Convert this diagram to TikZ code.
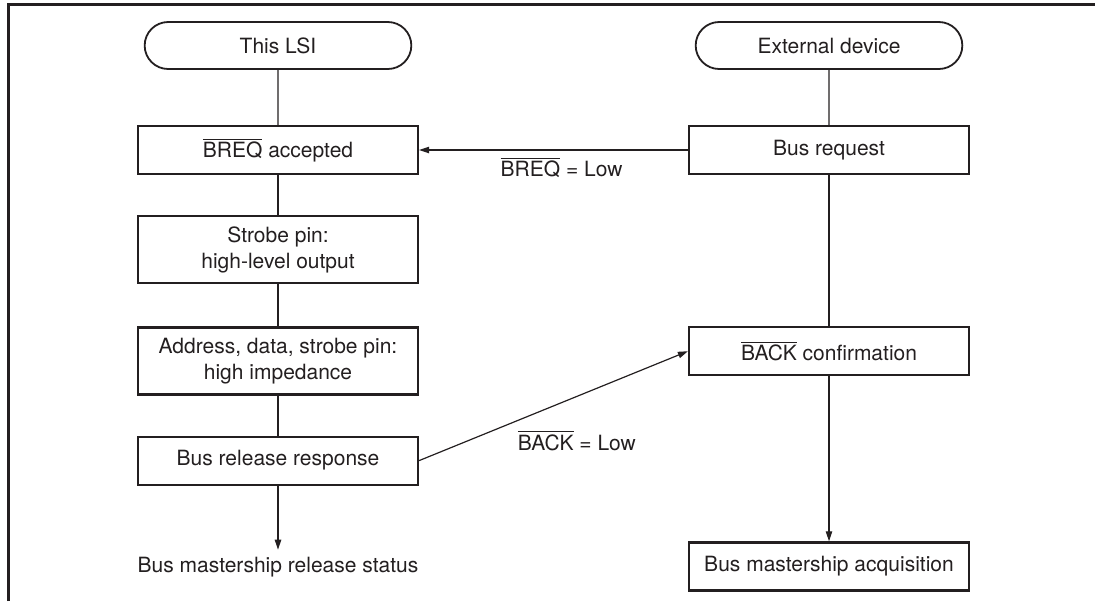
\documentclass[tikz,border=0pt]{standalone}
\usepackage{fontspec}
\setmainfont{TeX Gyre Heros}
\usetikzlibrary{arrows.meta, positioning, shapes.misc}
\definecolor{inkDark}{HTML}{231F20}
\tikzset{
  arrowK/.style={-{Triangle[length=5pt, width=3.2pt]}, inkDark, line width=0.6pt},
  lineK/.style={inkDark, line width=0.6pt},
  boxStep/.style={rectangle, draw=inkDark, line width=1.1pt, align=center,
                  minimum width=140pt, minimum height=24pt, inner sep=3pt},
  boxTwo/.style={boxStep, minimum height=33.5pt},
  boxTerm/.style={rounded rectangle, draw=inkDark, line width=0.9pt,
                  minimum width=140pt, minimum height=23.5pt},
}
\newcommand{\negsig}[1]{$\overline{\mbox{#1}}$}

\begin{document}
\begin{tikzpicture}[font=\fontsize{10.5pt}{13pt}\selectfont, text=inkDark]
  \useasboundingbox (0,0) rectangle (547.5pt,-300.5pt);
  \draw[inkDark, line width=1.5pt] (4pt,-300.5pt) -- (4pt,-2.25pt) -- (547.5pt,-2.25pt);

  % this LSI side
  \node[boxTerm] (lsi) at (139pt,-22.75pt) {This LSI};
  \node[boxStep, below=27.5pt of lsi] (breqAcc) {\negsig{BREQ} accepted};
  \node[boxTwo, below=20pt of breqAcc] (strobe) {Strobe pin:\\high-level output};
  \node[boxTwo, below=21pt of strobe] (hiZ) {Address, data, strobe pin:\\high impedance};
  \node[boxStep, below=20pt of hiZ] (busRel) {Bus release response};
  \node[below=32pt of busRel] (relStatus) {Bus mastership release status};

  % external device side
  \node[boxTerm] (ext) at (414.5pt,-22.75pt) {External device};
  \node[boxStep, below=27.5pt of ext] (busReq) {Bus request};
  \node[boxStep, below=75.5pt of busReq] (backConf) {\negsig{BACK} confirmation};
  \node[boxStep, below=82.5pt of backConf] (acq) {Bus mastership acquisition};

  \draw[lineK] (lsi) -- (breqAcc);
  \draw[lineK] (breqAcc) -- (strobe);
  \draw[lineK] (strobe) -- (hiZ);
  \draw[lineK] (hiZ) -- (busRel);
  \draw[arrowK] (busRel) -- (relStatus);

  \draw[lineK] (ext) -- (busReq);
  \draw[lineK] (busReq) -- (backConf);
  \draw[arrowK] (backConf) -- (acq);

  % handshake signals
  \draw[arrowK] (busReq.west) -- node[below, pos=0.47] {\negsig{BREQ} = Low} (breqAcc.east);
  \draw[arrowK] (busRel.east) -- node[pos=0.34, anchor=north west] {\negsig{BACK} = Low} (backConf.west);
\end{tikzpicture}
\end{document}
